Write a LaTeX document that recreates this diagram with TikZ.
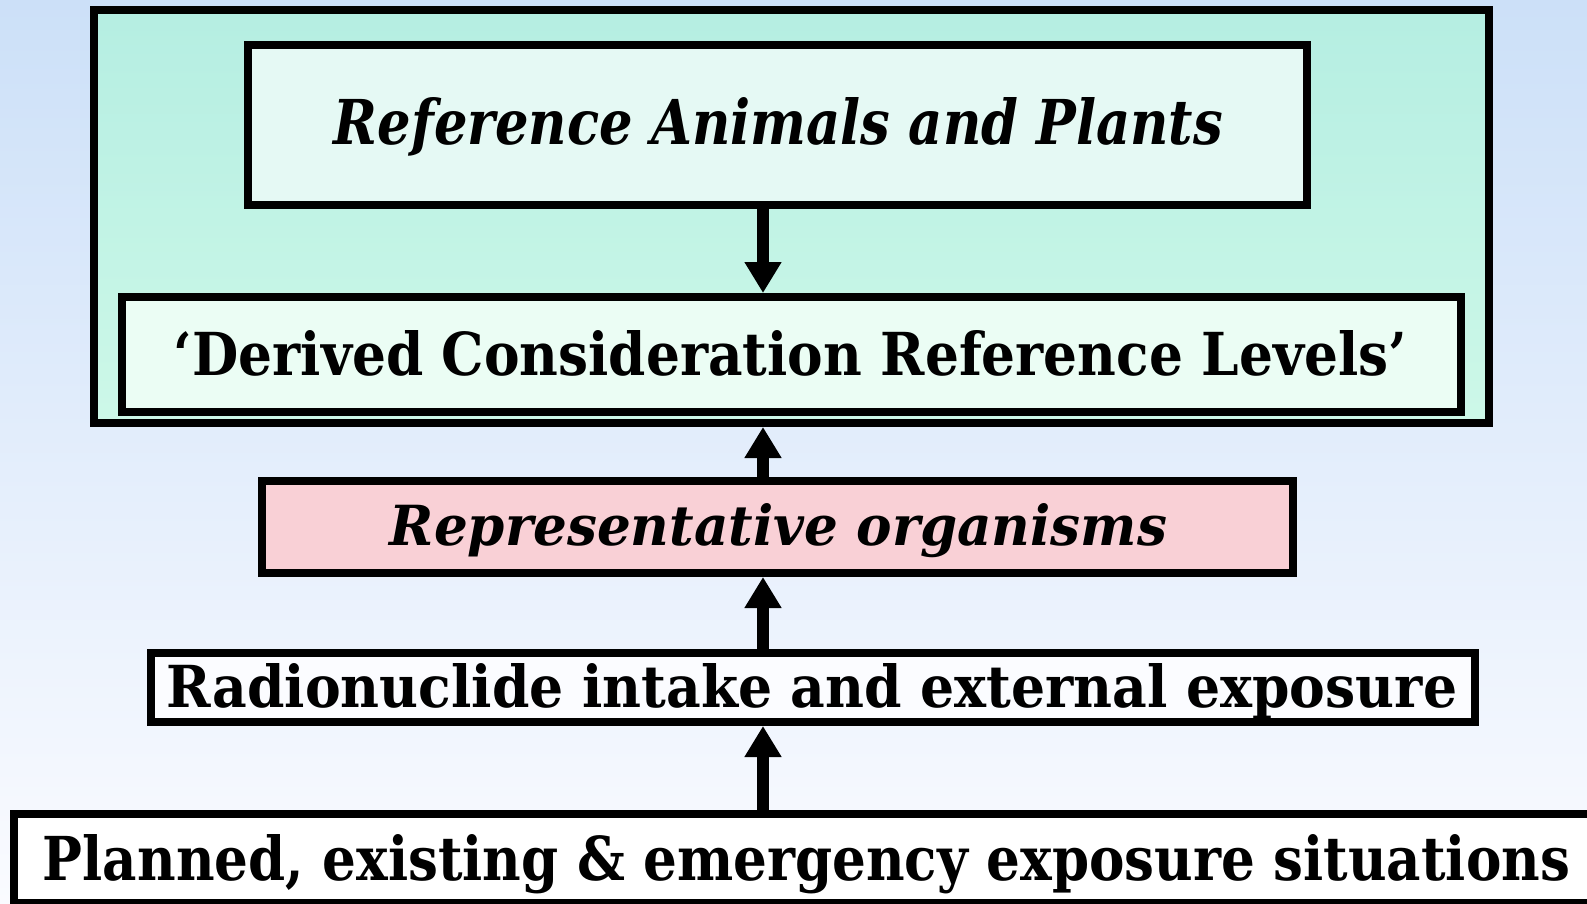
\documentclass[tikz,border=0pt]{standalone}
\usepackage{fontspec}
\setmainfont{DejaVu Serif}
\usepackage{graphicx}
\usetikzlibrary{arrows.meta}
\definecolor{bgtop}{RGB}{204,224,248}
\definecolor{bgmid}{RGB}{242,246,253}
\definecolor{bgbot}{RGB}{250,251,255}
\definecolor{tealtop}{RGB}{181,238,226}
\definecolor{tealbot}{RGB}{205,248,232}
\definecolor{boxa}{RGB}{229,249,244}
\definecolor{boxb}{RGB}{235,253,244}
\definecolor{pinkbox}{RGB}{249,208,214}
\definecolor{whitebox}{RGB}{251,252,255}
\begin{document}
\begin{tikzpicture}[x=1pt,y=-1pt,
  box/.style={draw=black,line width=8pt,rectangle,inner sep=0pt},
  flow/.style={line width=12pt,-{Triangle[width=35pt,length=31pt]}},
  lbl/.style={anchor=base,inner sep=0pt,text=black}]
\useasboundingbox (0,0) rectangle (1587,904);
\shade[top color=bgtop,middle color=bgmid,bottom color=bgbot] (0,0) rectangle (1587,904);
% boxes
\node[box,top color=tealtop,bottom color=tealbot,minimum width=1395pt,minimum height=413pt] (outer) at (791.5,216.5) {};
\node[box,fill=boxa,minimum width=1059pt,minimum height=160pt] (rap) at (777.5,125) {};
\node[box,fill=boxb,minimum width=1339pt,minimum height=115pt] (dcrl) at (791.5,354.5) {};
\node[box,fill=pinkbox,minimum width=1031pt,minimum height=92pt] (rep) at (777.5,527) {};
\node[box,fill=whitebox,minimum width=1324pt,minimum height=69pt] (radio) at (813,687.5) {};
\node[box,fill=white,minimum width=1606pt,minimum height=89pt] (plan) at (817,858.5) {};
% labels
\node[lbl] (trap) at (778.5,145) {\resizebox{889pt}{47pt}{\bfseries\itshape Reference Animals and Plants}};
\node[lbl] (tdcrl) at (790.5,375) {\resizebox{1233pt}{45pt}{\bfseries ‘Derived Consideration Reference Levels’}};
\node[lbl] (trep) at (778.5,545) {\resizebox{777pt}{42pt}{\bfseries\itshape Representative organisms}};
\node[lbl] (tradio) at (812,707) {\resizebox{1290pt}{44pt}{\bfseries Radionuclide intake and external exposure}};
\node[lbl] (tplan) at (806.5,880) {\resizebox{1527pt}{46pt}{\bfseries Planned, existing \& emergency exposure situations}};
% arrows
\coordinate (ax) at (763,0);
\draw[flow] (ax |- rap.south) -- (ax |- dcrl.north);
\draw[flow] (ax |- rep.north) -- (ax |- outer.south);
\draw[flow] (ax |- radio.north) -- (ax |- rep.south);
\draw[flow] (ax |- plan.north) -- (ax |- radio.south);
\end{tikzpicture}
\end{document}
